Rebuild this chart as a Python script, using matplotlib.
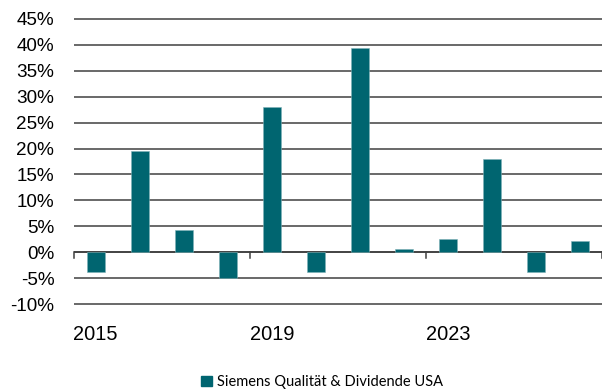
import numpy as np
import matplotlib.pyplot as plt
from matplotlib.patches import Patch
from matplotlib.ticker import FuncFormatter

# Annual returns in percent
years = [2015, 2016, 2017, 2018, 2019, 2020, 2021, 2022, 2023, 2024, 2025, 2026]
returns = [-3.7, 19.5, 4.3, -4.9, 28.0, -3.8, 39.3, 0.6, 2.5, 17.9, -3.8, 2.15]
series_name = "Siemens Qualität & Dividende USA"
bar_color = "#006570"

fig = plt.figure(figsize=(6.02, 3.92), dpi=100)
ax = fig.add_axes([73.7 / 602, 1 - 305.5 / 392, 1 - 73.7 / 602, (305.5 - 17.5) / 392])

x = np.arange(len(years))
ax.bar(x, returns, width=0.4, color=bar_color, edgecolor="#7fb2b7", linewidth=0.4, zorder=3)

ax.set_xlim(-0.5, len(years) - 0.5)
ax.set_ylim(-10.2, 45.2)
ax.set_yticks(np.arange(-10, 46, 5))
ax.yaxis.set_major_formatter(FuncFormatter(lambda v, p: f"{v:.0f}%"))
ax.grid(axis="y", color="#404040", linewidth=1.1, zorder=1)
ax.axhline(0, color="#404040", linewidth=1.2, zorder=2)

# year labels every four years, tick marks on category boundaries
ax.set_xticks(x[::4])
ax.set_xticklabels([str(y) for y in years[::4]])
for b in np.arange(-0.5, len(years), 4):
    ax.plot([b, b], [0, -1.0], color="#404040", linewidth=1.1, zorder=4, clip_on=False)

for s in ax.spines.values():
    s.set_visible(False)
ax.tick_params(axis="both", length=0, colors="black")
ax.tick_params(axis="y", pad=14, labelsize=13.6)
ax.tick_params(axis="x", pad=14, labelsize=14.4)
for lbl in ax.get_xticklabels() + ax.get_yticklabels():
    lbl.set_fontfamily("Liberation Sans")

fig.legend(handles=[Patch(color=bar_color, label=series_name)], loc="center",
           bbox_to_anchor=(322 / 602, 1 - 382 / 392), frameon=False,
           handlelength=0.75, handleheight=0.75, handletextpad=0.3,
           prop={"family": "Lato", "size": 10.5})

fig.savefig("out.png", dpi=100)
